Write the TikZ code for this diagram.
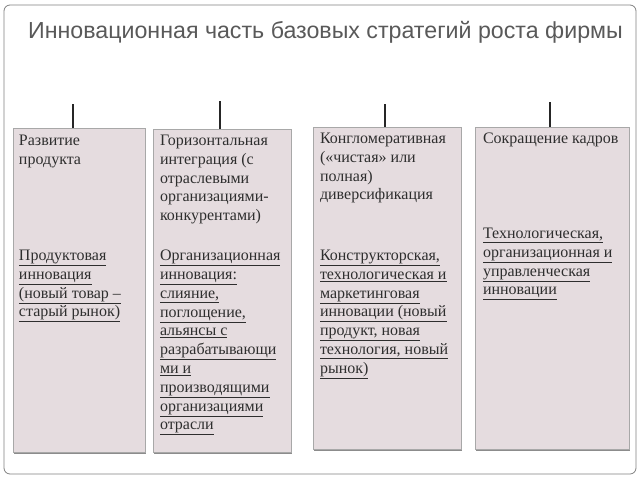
\documentclass[tikz,border=0pt]{standalone}
\usepackage{fontspec}
\setmainfont{Liberation Serif}
\newfontfamily\titlefont{Liberation Sans}
\usetikzlibrary{positioning}
\usetikzlibrary{calc}
\usetikzlibrary{shadows}
\definecolor{boxfill}{HTML}{E5DCDF}
\definecolor{boxline}{HTML}{A8A8A8}
\definecolor{txtgray}{HTML}{2E2E2E}
\newcommand{\ul}[1]{\underline{#1}}

\begin{document}
\begin{tikzpicture}[x=1pt,y=1pt,
      frame/.style={draw=black!50,line width=0.8pt,rounded corners=6pt},
      strat/.style={draw=boxline,fill=boxfill,inner sep=0pt,
        drop shadow={shadow xshift=1pt,shadow yshift=-2pt,fill=black!45,opacity=1}},
      txt/.style={anchor=north west,inner sep=0pt,align=left,text=txtgray,
        font=\fontsize{16}{18.8}\selectfont},
      tick/.style={line width=1.4pt,black!85}]
    \useasboundingbox (0,0) rectangle (640,-480);
    \draw[frame] (4,-5) rectangle (636,-474);
    \node[text=black!65,font=\titlefont\fontsize{23.2}{26}\selectfont] (title) at (325.5,-32)
      {Инновационная часть базовых стратегий роста фирмы};
    \node[strat,minimum width=132,minimum height=324] (b1) at (79,-290) {};
    \node[strat,minimum width=138,minimum height=323] (b2) at (222,-290.5) {};
    \node[strat,minimum width=148,minimum height=322] (b3) at (387,-288) {};
    \node[strat,minimum width=154,minimum height=322] (b4) at (552,-288) {};
    \coordinate (t1) at (73,-104);
    \coordinate (t2) at (220,-101);
    \coordinate (t3) at (385,-104);
    \coordinate (t4) at (550,-102);
    \foreach \i in {1,...,4}
      \draw[tick] (t\i) -- (t\i |- b\i.north);
    \node[txt] (h1) at ($(b1.north west)+(6,-7)$) {Развитие\\продукта};
    \node[txt] (i1) at ($(b1.north west)+(6,-122)$)
      {\ul{Продуктовая}\\\ul{инновация}\\\ul{(новый товар –}\\\ul{старый рынок)}};
    \node[txt] (h2) at ($(b2.north west)+(7,-6)$)
      {Горизонтальная\\интеграция (с\\отраслевыми\\организациями-\\конкурентами)};
    \node[txt] (i2) at ($(b2.north west)+(7,-121)$)
      {\ul{Организационная}\\\ul{инновация:}\\\ul{слияние,}\\\ul{поглощение,}\\\ul{альянсы с}\\
       \ul{разрабатывающи}\\\ul{ми и}\\\ul{производящими}\\\ul{организациями}\\\ul{отрасли}};
    \node[txt] (h3) at ($(b3.north west)+(7,-6)$)
      {Конгломеративная\\(«чистая» или\\полная)\\диверсификация};
    \node[txt] (i3) at ($(b3.north west)+(7,-123)$)
      {\ul{Конструкторская,}\\\ul{технологическая и}\\\ul{маркетинговая}\\\ul{инновации (новый}\\
       \ul{продукт, новая}\\\ul{технология, новый}\\\ul{рынок)}};
    \node[txt] (h4) at ($(b4.north west)+(8,-6)$) {Сокращение кадров};
    \node[txt] (i4) at ($(b4.north west)+(8,-101)$)
      {\ul{Технологическая,}\\\ul{организационная и}\\\ul{управленческая}\\\ul{инновации}};
  \end{tikzpicture}
\end{document}
